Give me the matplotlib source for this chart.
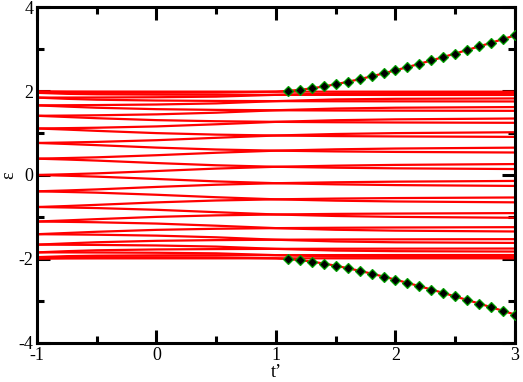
import matplotlib
matplotlib.use("Agg")
import matplotlib.pyplot as plt
from matplotlib.ticker import MultipleLocator

plt.rcParams['font.family'] = ['Liberation Serif', 'DejaVu Serif']
plt.rcParams['axes.unicode_minus'] = False

# sample positions (t') at which the bulk levels were read
t_samples = [-1, -0.75, -0.5, 0, 0.5, 1, 1.5, 2, 3]

# bulk levels, upper half (energies read at t_samples)
levels_upper = [
    [2.000, 1.994, 1.992, 1.991, 1.991, 1.990, 1.990, 1.990, 1.990],
    [1.962, 1.938, 1.927, 1.919, 1.916, 1.914, 1.913, 1.912, 1.911],
    [1.848, 1.819, 1.798, 1.778, 1.769, 1.764, 1.761, 1.759, 1.756],
    [1.663, 1.633, 1.606, 1.572, 1.555, 1.546, 1.540, 1.537, 1.532],
    [1.414, 1.385, 1.356, 1.310, 1.284, 1.269, 1.260, 1.254, 1.246],
    [1.111, 1.084, 1.054, 1.000, 0.964, 0.943, 0.929, 0.921, 0.910],
    [0.765, 0.741, 0.713, 0.654, 0.609, 0.581, 0.563, 0.551, 0.537],
    [0.390, 0.369, 0.344, 0.285, 0.232, 0.196, 0.174, 0.159, 0.142],
    [1.848, 1.849, 1.851, 1.857, 1.871, 1.914, 1.948, 1.954, 1.956],
    [1.663, 1.666, 1.670, 1.683, 1.710, 1.764, 1.805, 1.819, 1.828],
    [1.414, 1.419, 1.426, 1.448, 1.488, 1.546, 1.587, 1.607, 1.622],
    [1.111, 1.119, 1.129, 1.160, 1.211, 1.269, 1.308, 1.329, 1.349],
    [0.765, 0.776, 0.790, 0.831, 0.888, 0.943, 0.979, 1.000, 1.021],
    [0.390, 0.405, 0.422, 0.472, 0.531, 0.581, 0.613, 0.632, 0.653],
    [0.000, 0.018, 0.039, 0.095, 0.153, 0.196, 0.223, 0.241, 0.261],
]

# bulk levels, lower half
levels_lower = [
    [-2.000, -1.994, -1.992, -1.991, -1.991, -1.990, -1.990, -1.990, -1.990],
    [-1.962, -1.938, -1.927, -1.919, -1.916, -1.914, -1.913, -1.912, -1.911],
    [-1.848, -1.819, -1.798, -1.778, -1.769, -1.764, -1.761, -1.759, -1.756],
    [-1.663, -1.633, -1.606, -1.572, -1.555, -1.546, -1.540, -1.537, -1.532],
    [-1.414, -1.385, -1.356, -1.310, -1.284, -1.269, -1.260, -1.254, -1.246],
    [-1.111, -1.084, -1.054, -1.000, -0.964, -0.943, -0.929, -0.921, -0.910],
    [-0.765, -0.741, -0.713, -0.654, -0.609, -0.581, -0.563, -0.551, -0.537],
    [-0.390, -0.369, -0.344, -0.285, -0.232, -0.196, -0.174, -0.159, -0.142],
    [-1.848, -1.849, -1.851, -1.857, -1.871, -1.914, -1.948, -1.954, -1.956],
    [-1.663, -1.666, -1.670, -1.683, -1.710, -1.764, -1.805, -1.819, -1.828],
    [-1.414, -1.419, -1.426, -1.448, -1.488, -1.546, -1.587, -1.607, -1.622],
    [-1.111, -1.119, -1.129, -1.160, -1.211, -1.269, -1.308, -1.329, -1.349],
    [-0.765, -0.776, -0.790, -0.831, -0.888, -0.943, -0.979, -1.000, -1.021],
    [-0.390, -0.405, -0.422, -0.472, -0.531, -0.581, -0.613, -0.632, -0.653],
    [-0.000, -0.018, -0.039, -0.095, -0.153, -0.196, -0.223, -0.241, -0.261],
]

# levels that turn into the bound states (part before t' = 1)
edge_t = [-1, -0.75, -0.5, 0, 0.5, 1]
edge_upper = [1.962, 1.962, 1.962, 1.964, 1.968, 1.990]
edge_lower = [-1.962, -1.962, -1.962, -1.964, -1.968, -1.990]

# bound states (diamonds)
bound_t = [1.1, 1.2, 1.3, 1.4, 1.5, 1.6, 1.7, 1.8, 1.9, 2.0,
           2.1, 2.2, 2.3, 2.4, 2.5, 2.6, 2.7, 2.8, 2.9, 3.0]
bound_upper = [2.009, 2.033, 2.069, 2.114, 2.167, 2.225, 2.288, 2.356, 2.426, 2.500,
               2.576, 2.655, 2.735, 2.817, 2.900, 2.985, 3.070, 3.157, 3.245, 3.333]
bound_lower = [-2.009, -2.033, -2.069, -2.114, -2.167, -2.225, -2.288, -2.356, -2.426, -2.500,
               -2.576, -2.655, -2.735, -2.817, -2.900, -2.985, -3.070, -3.157, -3.245, -3.333]

x_ticks = [-1, 0, 1, 2, 3]
y_ticks = [-4, -2, 0, 2, 4]

fig = plt.figure(figsize=(5.23, 3.82), dpi=100)
ax = fig.add_axes([0.0707, 0.1034, 0.9140, 0.8770])

red = '#ff0000'
lw = 1.6
for lev in levels_upper + levels_lower:
    ax.plot(t_samples, lev, color=red, lw=lw, solid_joinstyle='round', zorder=2)

ax.plot(edge_t + bound_t, edge_upper + bound_upper, color=red, lw=lw, zorder=2)
ax.plot(edge_t + bound_t, edge_lower + bound_lower, color=red, lw=lw, zorder=2)

for vals in (bound_upper, bound_lower):
    ax.plot(bound_t, vals, linestyle='none', marker='D', markersize=5.6,
            markerfacecolor='black', markeredgecolor='#00a000',
            markeredgewidth=0.9, zorder=3)

ax.set_xlim(-1, 3)
ax.set_ylim(-4, 4)
ax.set_xticks(x_ticks)
ax.set_yticks(y_ticks)
ax.xaxis.set_minor_locator(MultipleLocator(0.5))
ax.yaxis.set_minor_locator(MultipleLocator(1))
ax.tick_params(which='both', direction='in', top=True, right=True,
               width=2.2, color='black', labelsize=13)
ax.tick_params(which='major', length=9.5)
ax.tick_params(which='minor', length=5)
ax.tick_params(axis='x', which='major', pad=3.5)
ax.tick_params(axis='y', which='major', pad=2.5)
for s in ax.spines.values():
    s.set_linewidth(2.2)

ax.set_xlabel('t\u2019', fontsize=13, labelpad=-0.5)
ax.set_ylabel('\u03b5', fontsize=13, labelpad=1)

fig.savefig('out.png', dpi=100)
